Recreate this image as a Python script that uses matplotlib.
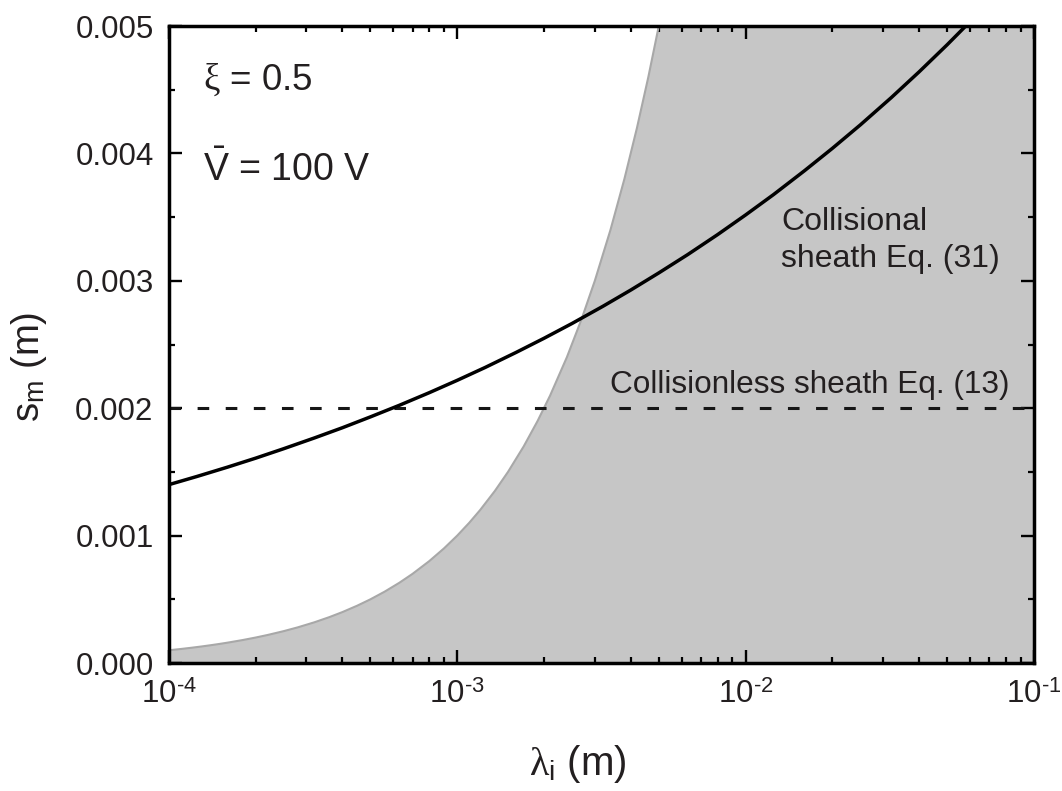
import numpy as np
import matplotlib
matplotlib.use("Agg")
import matplotlib.pyplot as plt
from matplotlib.ticker import LogLocator, MultipleLocator, FormatStrFormatter, NullFormatter, FuncFormatter

plt.rcParams['font.family'] = ['Liberation Sans', 'DejaVu Sans']
plt.rcParams['mathtext.fontset'] = 'custom'
plt.rcParams['mathtext.rm'] = 'Liberation Sans'
plt.rcParams['mathtext.it'] = 'Liberation Serif'
plt.rcParams['mathtext.bf'] = 'Liberation Sans:bold'
plt.rcParams['mathtext.sf'] = 'Liberation Sans'

# ---- data ----
# Collisional sheath, Eq. (31)
lam_coll = [1.0e-4, 1.25e-4, 1.6e-4, 2.0e-4, 2.5e-4, 3.2e-4, 4.0e-4, 5.0e-4, 6.3e-4, 8.0e-4,
            1.0e-3, 1.25e-3, 1.6e-3, 2.0e-3, 2.5e-3, 3.2e-3, 4.0e-3, 5.0e-3, 6.3e-3, 8.0e-3,
            1.0e-2, 1.25e-2, 1.6e-2, 2.0e-2, 2.5e-2, 3.2e-2, 4.0e-2, 5.0e-2, 6.3e-2]
s_coll = [0.001400, 0.001464, 0.001538, 0.001608, 0.001682, 0.001767, 0.001847, 0.001932,
          0.002023, 0.002122,
          0.002219, 0.002320, 0.002438, 0.002549, 0.002665, 0.002800, 0.002928, 0.003062,
          0.003206, 0.003363,
          0.003517, 0.003677, 0.003864, 0.004040, 0.004224, 0.004438, 0.004641, 0.004853,
          0.005082]

# Collisionless sheath, Eq. (13)
lam_cl = [1e-4, 1e-1]
s_cl = [0.002, 0.002]

# Boundary of the shaded (collisionless) region
lam_b = [1.0e-4, 1.1e-4, 1.2e-4, 1.3e-4, 1.4e-4, 1.5e-4, 1.6e-4, 1.8e-4, 2.0e-4, 2.2e-4,
         2.5e-4, 2.8e-4, 3.2e-4, 3.6e-4, 4.0e-4, 4.5e-4, 5.0e-4, 5.6e-4, 6.3e-4, 7.0e-4,
         8.0e-4, 9.0e-4, 1.0e-3, 1.1e-3, 1.2e-3, 1.35e-3, 1.5e-3, 1.7e-3, 1.9e-3, 2.1e-3,
         2.4e-3, 2.7e-3, 3.0e-3, 3.4e-3, 3.8e-3, 4.2e-3, 4.6e-3, 5.0e-3]
s_b = [0.00010, 0.00011, 0.00012, 0.00013, 0.00014, 0.00015, 0.00016, 0.00018, 0.00020,
       0.00022, 0.00025, 0.00028, 0.00032, 0.00036, 0.00040, 0.00045, 0.00050, 0.00056,
       0.00063, 0.00070, 0.00080, 0.00090, 0.00100, 0.00110, 0.00120, 0.00135, 0.00150,
       0.00170, 0.00190, 0.00210, 0.00240, 0.00270, 0.00300, 0.00340, 0.00380, 0.00420,
       0.00460, 0.00500]

xlim = (1e-4, 1e-1)
ylim = (0.0, 0.005)

txt_color = '#231f20'

fig = plt.figure(figsize=(10.62, 7.91), dpi=100)
ax = fig.add_axes([0.159, 0.1618, 0.8146, 0.8053])

# shaded region
lb = np.array(lam_b)
sb = np.array(s_b)
ax.fill(np.r_[lb, xlim[1], xlim[1], lb[0]], np.r_[sb, ylim[1], ylim[0], ylim[0]],
        color='#c6c6c6', lw=0, zorder=1)
ax.plot(lb, sb, color='#a8a8a8', lw=1.5, zorder=2)

ax.plot(lam_cl, s_cl, color='#161616', lw=2.2, linestyle=(0, (3.8, 5.4)), zorder=3)
ax.plot(lam_coll, s_coll, color='black', lw=2.5, zorder=4, solid_capstyle='butt')

ax.set_xscale('log')
ax.set_xlim(*xlim)
ax.set_ylim(*ylim)


def fmt_pow(v, pos):
    e = int(round(np.log10(v)))
    return r'$10^{\text{%d}}$' % e


ax.xaxis.set_major_locator(LogLocator(base=10, numticks=10))
ax.xaxis.set_major_formatter(FuncFormatter(fmt_pow))
ax.xaxis.set_minor_locator(LogLocator(base=10, subs=np.arange(2, 10), numticks=20))
ax.xaxis.set_minor_formatter(NullFormatter())
ax.yaxis.set_major_locator(MultipleLocator(0.001))
ax.yaxis.set_minor_locator(MultipleLocator(0.0005))
ax.yaxis.set_major_formatter(FormatStrFormatter('%.3f'))

ax.tick_params(which='both', direction='in', top=True, right=True, colors='black',
               labelcolor=txt_color, labelsize=22.5)
ax.tick_params(which='major', length=9.5, width=1.7)
ax.tick_params(which='minor', length=4.5, width=1.6)
ax.tick_params(axis='y', which='major', pad=11)
ax.tick_params(axis='x', which='major', pad=12)

for sp in ax.spines.values():
    sp.set_linewidth(2.5)
    sp.set_zorder(6)

ax.set_xlabel(r'$\lambda_\mathrm{i}$ (m)', fontsize=29, color=txt_color)
ax.set_ylabel(r'$\mathrm{s}_\mathrm{m}$ (m)', fontsize=27.5, color=txt_color)
ax.xaxis.set_label_coords(0.473, -0.125)
ax.yaxis.set_label_coords(-0.139, 0.465)

ax.text(0.039, 0.915, r'$\xi$ = 0.5', transform=ax.transAxes, fontsize=26.5,
        color=txt_color, ha='left', va='center')
ax.text(0.039, 0.774, r'$\bar{\mathrm{V}}$ = 100 V', transform=ax.transAxes, fontsize=27,
        color=txt_color, ha='left', va='center')

ax.text(0.01327, 0.00332, 'Collisional\nsheath Eq. (31)', fontsize=23, color=txt_color,
        ha='left', va='center', linespacing=1.3, zorder=5)
ax.text(0.0820, 0.00212, 'Collisionless sheath Eq. (13)', fontsize=22.7, color=txt_color,
        ha='right', va='baseline', zorder=5)

fig.savefig('out.png', dpi=100)
